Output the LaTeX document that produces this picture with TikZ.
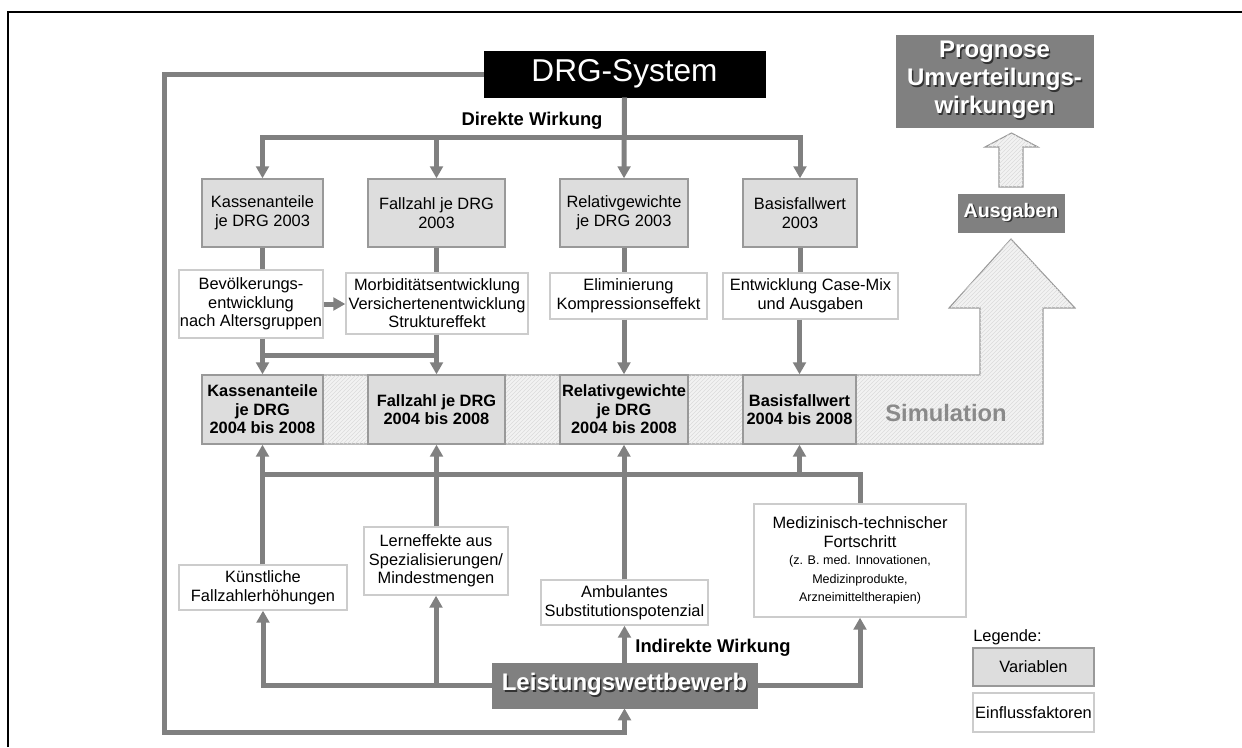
\documentclass[tikz,border=0pt]{standalone}
\usepackage{fontspec}
\setmainfont{Liberation Sans}
\usetikzlibrary{arrows.meta}
\usetikzlibrary{patterns}

\definecolor{linegray}{HTML}{808080}
\definecolor{varfill}{HTML}{DDDDDD}
\definecolor{varedge}{HTML}{999999}
\definecolor{factedge}{HTML}{CCCCCC}
\definecolor{simfill}{HTML}{F2F2F2}
\definecolor{simtext}{HTML}{8A8A8A}

\newcommand{\shadowed}[1]{\leavevmode\rlap{\hspace{1.1pt}\raisebox{-1.1pt}{\color{black!80}#1}}#1}
\newcommand{\bodysize}{\fontsize{12.3}{13.9}\selectfont}

\tikzset{
  conn/.style={draw=linegray, line width=3.75pt, -{Triangle[width=9.5pt,length=9pt]}},
  plainline/.style={draw=linegray, line width=3.75pt},
  sz/.style 2 args={minimum width=#1*0.75pt, minimum height=#2*0.75pt},
  varbox/.style={draw=varedge, fill=varfill, line width=1pt, align=center, inner sep=0pt, font=\bodysize},
  resbox/.style={varbox, font=\bodysize\bfseries},
  factbox/.style={draw=factedge, fill=white, line width=1pt, align=center, inner sep=0pt, font=\bodysize},
  darkbox/.style={draw=linegray, fill=linegray, text=white, align=center, inner sep=0pt, font=\bfseries},
  hatched/.style={draw=varedge, line width=0.8pt, fill=simfill},
}

\begin{document}
\begin{tikzpicture}[x=0.75pt, y=-0.75pt]
            \useasboundingbox (0,0) rectangle (1242,747);

            % Draw the frame
            \draw[line width=1.9pt] (8,747) -- (8,12) -- (1242,12);

            % Draw the simulation arrow
            \draw[hatched] (202,375) -- (980,375) -- (980,308) -- (949,308) -- (1011,239)
                -- (1075,308) -- (1043,308) -- (1043,444) -- (202,444) -- cycle;
            \fill[pattern=north east lines, pattern color=black!14] (202,375) -- (980,375) -- (980,308) -- (949,308) -- (1011,239)
                -- (1075,308) -- (1043,308) -- (1043,444) -- (202,444) -- cycle;
            \node (sim) at (946,413) {\fontsize{17.8}{20}\selectfont\bfseries\color{simtext}Simulation};

            % Draw the result arrow
            \draw[hatched] (999,187) -- (999,147) -- (985,147) -- (1011.5,133) -- (1038,147) -- (1023,147) -- (1023,187) -- cycle;
            \fill[pattern=north east lines, pattern color=black!14] (999,187) -- (999,147) -- (985,147) -- (1011.5,133) -- (1038,147) -- (1023,147) -- (1023,187) -- cycle;

            % Draw the top nodes
            \node[darkbox, fill=black, draw=black, sz={281}{46}, font=\fontsize{23.7}{26}\selectfont] (drg) at (624.5,74) {DRG-System};
            \node (direkt) at (532,121) {\fontsize{13.8}{16}\selectfont\bfseries Direkte Wirkung};
            \node[darkbox, sz={197}{92}, font=\fontsize{18}{21}\selectfont\bfseries] (prog) at (994.5,81)
                {\shadowed{Prognose}\\\shadowed{Umverteilungs-}\\\shadowed{wirkungen}};
            \node[darkbox, sz={106}{38}, font=\fontsize{14.7}{17}\selectfont\bfseries] (ausg) at (1011,213) {\shadowed{Ausgaben}};

            % Draw the variables 2003
            \node[varbox, sz={121}{68}] (t1) at (262.5,213) {Kassenanteile\\je DRG 2003};
            \node[varbox, sz={137}{68}] (t2) at (436.5,213) {Fallzahl je DRG\\2003};
            \node[varbox, sz={128}{68}] (t3) at (624,213) {Relativgewichte\\je DRG 2003};
            \node[varbox, sz={114}{68}] (t4) at (800,213) {Basisfallwert\\2003};

            % Draw the direct factors
            \node[factbox, sz={144}{68}] (bev) at (251,304) {Bevölkerungs-\\entwicklung\\nach Altersgruppen};
            \node[factbox, sz={182}{61}] (morb) at (437,303.5) {Morbiditätsentwicklung\\Versichertenentwicklung\\Struktureffekt};
            \node[factbox, sz={157}{46}] (elim) at (628.5,296) {Eliminierung\\Kompressionseffekt};
            \node[factbox, sz={175}{46}] (entw) at (810.5,296) {Entwicklung Case-Mix\\und Ausgaben};

            % Draw the variables 2004 to 2008
            \node[resbox, sz={121}{69}] (k1) at (262.5,409.5) {Kassenanteile\\je DRG\\2004 bis 2008};
            \node[resbox, sz={137}{69}] (k2) at (436.5,409.5) {Fallzahl je DRG\\2004 bis 2008};
            \node[resbox, sz={128}{69}] (k3) at (624,409.5) {Relativgewichte\\je DRG\\2004 bis 2008};
            \node[resbox, sz={113}{69}] (k4) at (799.5,409.5) {Basisfallwert\\2004 bis 2008};

            % Draw the indirect factors
            \node[factbox, sz={168}{45}] (kuenst) at (263,587.5) {Künstliche\\Fallzahlerhöhungen};
            \node[factbox, sz={144}{68}] (lern) at (436,561) {Lerneffekte aus\\Spezialisierungen/\\Mindestmengen};
            \node[factbox, sz={167}{45}] (amb) at (624.5,602.5) {Ambulantes\\Substitutionspotenzial};
            \node[factbox, sz={212}{113}] (med) at (860,560.5)
                {Medizinisch-technischer\\Fortschritt\\[-1pt]{\fontsize{9.4}{12}\selectfont (z. B. med. Innovationen,}\\{\fontsize{9.4}{12}\selectfont Medizinprodukte,}\\{\fontsize{9.4}{12}\selectfont Arzneimitteltherapien)}};
            \node[darkbox, sz={265}{45}, font=\fontsize{18}{21}\selectfont\bfseries] (leist) at (624.5,685.5) {\shadowed{Leistungswettbewerb}};
            \node (indirekt) at (713,648) {\fontsize{13.8}{16}\selectfont\bfseries Indirekte Wirkung};

            % Draw the legend
            \node[anchor=west, inner sep=0pt, font=\bodysize] (leg) at (973,637) {Legende:};
            \node[varbox, sz={121}{38}] (legvar) at (1033.5,667) {Variablen};
            \node[factbox, sz={121}{39}] (legfact) at (1033.5,712.5) {Einflussfaktoren};

            % Direct effects
            \coordinate (dbar) at (624,137);
            \draw[conn] (drg.south) -- (t3.north);
            \draw[conn] (dbar) -| (t1.north);
            \draw[conn] (dbar) -| (t4.north);
            \draw[conn] (dbar -| t2.north) -- (t2.north);

            \draw[plainline] (t1.south) -- (t1.south |- bev.north);
            \draw[plainline] (t2.south) -- (t2.south |- morb.north);
            \draw[plainline] (t3.south) -- (t3.south |- elim.north);
            \draw[plainline] (t4.south) -- (t4.south |- entw.north);

            \draw[conn] (bev.east) -- (morb.west |- bev.east);
            \coordinate (mbar) at (350,355);
            \draw[conn] (k1.north |- bev.south) -- (k1.north);
            \draw[conn] (k2.north |- morb.south) -- (k2.north);
            \draw[plainline] (mbar -| k1.north) -- (mbar -| k2.north);
            \draw[conn] (k3.north |- elim.south) -- (k3.north);
            \draw[conn] (k4.north |- entw.south) -- (k4.north);

            % Indirect effects
            \coordinate (ibar) at (600,474);
            \draw[conn] (k1.south |- kuenst.north) -- (k1.south);
            \draw[conn] (k2.south |- lern.north) -- (k2.south);
            \draw[conn] (k3.south |- amb.north) -- (k3.south);
            \draw[conn] (ibar -| k4.south) -- (k4.south);
            \draw[plainline] (ibar -| k1.south) -| (med.north);

            \draw[conn] (leist.west) -| (kuenst.south);
            \draw[conn] (leist.west -| lern.south) -- (lern.south);
            \draw[conn] (leist.north) -- (amb.south);
            \draw[conn] (leist.east) -| (med.south);

            % Feedback
            \coordinate (fb) at (164,732);
            \draw[conn] (drg.west) -| (fb) -| (leist.south);

        \end{tikzpicture}
\end{document}
